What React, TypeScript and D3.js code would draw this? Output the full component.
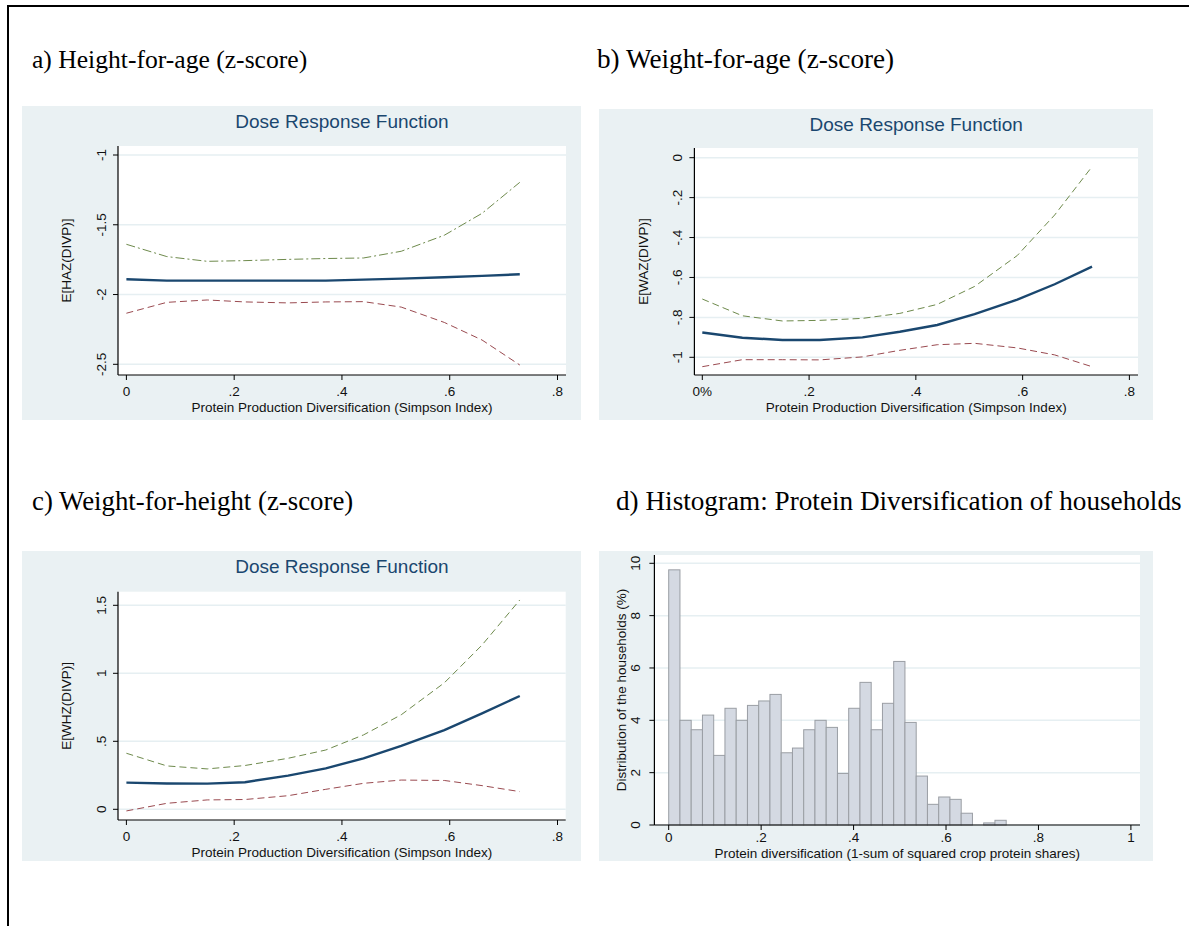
import React from 'react';
import * as d3 from 'd3';

// ---------- data ----------
const doseX = [0, 0.075, 0.15, 0.22, 0.3, 0.37, 0.44, 0.51, 0.59, 0.66, 0.73];

const hazMean = [-1.891, -1.9, -1.9, -1.9, -1.9, -1.9, -1.893, -1.886, -1.876, -1.866, -1.855];
const hazUpper = [-1.64, -1.728, -1.762, -1.757, -1.748, -1.742, -1.738, -1.69, -1.575, -1.418, -1.196];
const hazLower = [-2.134, -2.056, -2.039, -2.053, -2.06, -2.053, -2.051, -2.09, -2.2, -2.326, -2.505];

const wazMean = [-0.876, -0.902, -0.913, -0.913, -0.9, -0.872, -0.838, -0.784, -0.711, -0.634, -0.546];
const wazUpper = [-0.708, -0.792, -0.818, -0.815, -0.805, -0.78, -0.735, -0.645, -0.49, -0.287, -0.045];
const wazLower = [-1.047, -1.012, -1.012, -1.013, -0.998, -0.965, -0.937, -0.93, -0.953, -0.988, -1.047];

const whzMean = [0.196, 0.19, 0.189, 0.199, 0.248, 0.301, 0.375, 0.466, 0.582, 0.706, 0.833];
const whzUpper = [0.412, 0.319, 0.297, 0.322, 0.375, 0.436, 0.547, 0.695, 0.93, 1.208, 1.539];
const whzLower = [-0.012, 0.044, 0.069, 0.072, 0.1, 0.147, 0.191, 0.215, 0.212, 0.174, 0.13];

const histBinWidth = 0.02434;
const histPercent = [
  9.75, 4.0, 3.64, 4.2, 2.66, 4.46, 4.0, 4.57, 4.74, 4.99,
  2.76, 2.94, 3.64, 4.0, 3.73, 1.97, 4.46, 5.45, 3.64, 4.65,
  6.25, 3.92, 1.87, 0.79, 1.07, 0.98, 0.45, 0, 0.08, 0.18,
];

const doseXTicks = [0, 0.2, 0.4, 0.6, 0.8];
const doseXLabels = ['0', '.2', '.4', '.6', '.8'];
const doseXLabelsPct = ['0%', '.2', '.4', '.6', '.8'];
const hazTicks = [-2.5, -2, -1.5, -1];
const hazLabels = ['-2.5', '-2', '-1.5', '-1'];
const wazTicks = [-1, -0.8, -0.6, -0.4, -0.2, 0];
const wazLabels = ['-1', '-.8', '-.6', '-.4', '-.2', '0'];
const whzTicks = [0, 0.5, 1, 1.5];
const whzLabels = ['0', '.5', '1', '1.5'];
const histXTicks = [0, 0.2, 0.4, 0.6, 0.8, 1];
const histXLabels = ['0', '.2', '.4', '.6', '.8', '1'];
const histYTicks = [0, 2, 4, 6, 8, 10];
const histYLabels = ['0', '2', '4', '6', '8', '10'];

const captions = [
  'a) Height-for-age (z-score)',
  'b) Weight-for-age (z-score)',
  'c) Weight-for-height (z-score)',
  'd) Histogram: Protein Diversification of households',
];
const doseTitle = 'Dose Response Function';
const doseXTitle = 'Protein Production Diversification (Simpson Index)';

// ---------- style ----------
const SANS = '"Liberation Sans", Arial, sans-serif';
const SERIF = '"Liberation Serif", "Times New Roman", serif';
const BG = '#EAF1F3';
const GRID = '#E6EFF2';
const NAVY = '#1A476F';
const GREEN = '#6E8A4C';
const MAROON = '#9A4A50';
const FS = 13.5;

type Box = { x: number; y: number; w: number; h: number };
type Plot = { l: number; r: number; t: number; b: number };

function Axes(props: {
  plot: Plot;
  xs: d3.ScaleLinear<number, number>;
  ys: d3.ScaleLinear<number, number>;
  xTicks: number[];
  xLabels: string[];
  yTicks: number[];
  yLabels: string[];
  yOff: number;
  xOff: number;
}) {
  const { plot, xs, ys, xTicks, xLabels, yTicks, yLabels, yOff, xOff } = props;
  return (
    <g>
      <line x1={plot.l} x2={plot.l} y1={plot.t} y2={plot.b} stroke="#000" strokeWidth={1.2} />
      <line x1={plot.l} x2={plot.r} y1={plot.b} y2={plot.b} stroke="#000" strokeWidth={1.2} />
      {yTicks.map((t, i) => (
        <g key={'y' + i}>
          <line x1={plot.l - 5} x2={plot.l} y1={ys(t)} y2={ys(t)} stroke="#000" strokeWidth={1} />
          <text
            transform={`translate(${plot.l - yOff},${ys(t)}) rotate(-90)`}
            textAnchor="middle"
            fontFamily={SANS}
            fontSize={FS}
            fill="#111"
          >
            {yLabels[i]}
          </text>
        </g>
      ))}
      {xTicks.map((t, i) => (
        <g key={'x' + i}>
          <line x1={xs(t)} x2={xs(t)} y1={plot.b} y2={plot.b + 5} stroke="#000" strokeWidth={1} />
          <text x={xs(t)} y={plot.b + xOff} textAnchor="middle" fontFamily={SANS} fontSize={FS} fill="#111">
            {xLabels[i]}
          </text>
        </g>
      ))}
    </g>
  );
}

function DosePanel(props: {
  bg: Box;
  plot: Plot;
  xRange: [number, number];
  yDomain: [number, number];
  yRange: [number, number];
  yTicks: number[];
  yLabels: string[];
  xLabels: string[];
  yTitle: string;
  yTitleX: number;
  mean: number[];
  upper: number[];
  lower: number[];
  upperDash: string;
}) {
  const p = props;
  const xs = d3.scaleLinear().domain([0, 0.8]).range(p.xRange);
  const ys = d3.scaleLinear().domain(p.yDomain).range(p.yRange);
  const line = (vals: number[]) =>
    d3
      .line<number>()
      .x((_, i) => xs(doseX[i]))
      .y((v) => ys(v))(vals) || '';
  const cx = (p.plot.l + p.plot.r) / 2;
  const cy = (p.plot.t + p.plot.b) / 2;
  return (
    <g>
      <rect x={p.bg.x} y={p.bg.y} width={p.bg.w} height={p.bg.h} fill={BG} />
      <rect x={p.plot.l} y={p.plot.t} width={p.plot.r - p.plot.l} height={p.plot.b - p.plot.t} fill="#fff" />
      {p.yTicks.map((t, i) => (
        <line key={i} x1={p.plot.l} x2={p.plot.r} y1={ys(t)} y2={ys(t)} stroke={GRID} strokeWidth={1.5} />
      ))}
      <path d={line(p.upper)} fill="none" stroke={GREEN} strokeWidth={1} strokeDasharray={p.upperDash} />
      <path d={line(p.lower)} fill="none" stroke={MAROON} strokeWidth={1} strokeDasharray="7,4" />
      <path d={line(p.mean)} fill="none" stroke={NAVY} strokeWidth={2.4} />
      <Axes
        plot={p.plot}
        xs={xs}
        ys={ys}
        xTicks={doseXTicks}
        xLabels={p.xLabels}
        yTicks={p.yTicks}
        yLabels={p.yLabels}
        yOff={12}
        xOff={21}
      />
      <text x={cx} y={p.bg.y + 22} textAnchor="middle" fontFamily={SANS} fontSize={19} fill={NAVY}>
        {doseTitle}
      </text>
      <text x={cx} y={p.plot.b + 37} textAnchor="middle" fontFamily={SANS} fontSize={FS} fill="#111">
        {doseXTitle}
      </text>
      <text
        transform={`translate(${p.yTitleX},${cy}) rotate(-90)`}
        textAnchor="middle"
        dominantBaseline="central"
        fontFamily={SANS}
        fontSize={FS}
        fill="#111"
      >
        {p.yTitle}
      </text>
    </g>
  );
}

function HistPanel() {
  const bg: Box = { x: 599, y: 551, w: 554, h: 310 };
  const plot: Plot = { l: 654.4, r: 1140, t: 555, b: 825 };
  const xs = d3.scaleLinear().domain([0, 1]).range([668.7, 1130.9]);
  const ys = d3.scaleLinear().domain([0, 10]).range([825, 563.3]);
  return (
    <g>
      <rect x={bg.x} y={bg.y} width={bg.w} height={bg.h} fill={BG} />
      <rect x={plot.l} y={plot.t} width={plot.r - plot.l} height={plot.b - plot.t} fill="#fff" />
      {histYTicks.map((t, i) => (
        <line key={i} x1={plot.l} x2={plot.r} y1={ys(t)} y2={ys(t)} stroke={GRID} strokeWidth={1.5} />
      ))}
      {histPercent.map((v, i) =>
        v > 0 ? (
          <rect
            key={i}
            x={xs(i * histBinWidth)}
            y={ys(v)}
            width={xs((i + 1) * histBinWidth) - xs(i * histBinWidth)}
            height={ys(0) - ys(v)}
            fill="#D4D9E2"
            stroke="#9A9EA4"
            strokeWidth={1}
          />
        ) : null
      )}
      <Axes
        plot={plot}
        xs={xs}
        ys={ys}
        xTicks={histXTicks}
        xLabels={histXLabels}
        yTicks={histYTicks}
        yLabels={histYLabels}
        yOff={14}
        xOff={17}
      />
      <text x={(plot.l + plot.r) / 2} y={plot.b + 33} textAnchor="middle" fontFamily={SANS} fontSize={FS} fill="#111">
        Protein diversification (1-sum of squared crop protein shares)
      </text>
      <text
        transform={`translate(621,${(plot.t + plot.b) / 2}) rotate(-90)`}
        textAnchor="middle"
        dominantBaseline="central"
        fontFamily={SANS}
        fontSize={FS}
        fill="#111"
      >
        Distribution of the households (%)
      </text>
    </g>
  );
}

export default function App() {
  return (
    <svg
      width={1189}
      height={926}
      style={{ position: 'absolute', left: 0, top: 0, background: '#fff' }}
    >
      <rect x={0} y={0} width={1189} height={926} fill="#fff" />
      <line x1={7} x2={1189} y1={6} y2={6} stroke="#000" strokeWidth={2} />
      <line x1={8} x2={8} y1={5} y2={926} stroke="#000" strokeWidth={2} />

      <text x={32} y={68} fontFamily={SERIF} fontSize={25.6} fill="#000">{captions[0]}</text>
      <text x={597} y={68} fontFamily={SERIF} fontSize={27.2} fill="#000">{captions[1]}</text>
      <text x={32} y={510} fontFamily={SERIF} fontSize={26.8} fill="#000">{captions[2]}</text>
      <text x={616} y={510} fontFamily={SERIF} fontSize={27.2} fill="#000">{captions[3]}</text>

      <DosePanel
        bg={{ x: 22, y: 106, w: 559, h: 314 }}
        plot={{ l: 118, r: 566, t: 146, b: 375 }}
        xRange={[126.4, 557.5]}
        yDomain={[-2.5, -1]}
        yRange={[364.3, 155]}
        yTicks={hazTicks}
        yLabels={hazLabels}
        xLabels={doseXLabels}
        yTitle="E[HAZ(DIVP)]"
        yTitleX={66}
        mean={hazMean}
        upper={hazUpper}
        lower={hazLower}
        upperDash="9,3,2,3"
      />
      <DosePanel
        bg={{ x: 599, y: 109, w: 554, h: 311 }}
        plot={{ l: 694.4, r: 1138, t: 148, b: 375 }}
        xRange={[702.3, 1129.4]}
        yDomain={[-1, 0]}
        yRange={[357.3, 157.7]}
        yTicks={wazTicks}
        yLabels={wazLabels}
        xLabels={doseXLabelsPct}
        yTitle="E[WAZ(DIVP)]"
        yTitleX={643}
        mean={wazMean}
        upper={wazUpper}
        lower={wazLower}
        upperDash="7,4"
      />
      <DosePanel
        bg={{ x: 22, y: 551, w: 559, h: 310 }}
        plot={{ l: 118, r: 565.7, t: 591.7, b: 820 }}
        xRange={[126.4, 557.5]}
        yDomain={[0, 1.5]}
        yRange={[809.3, 605.3]}
        yTicks={whzTicks}
        yLabels={whzLabels}
        xLabels={doseXLabels}
        yTitle="E[WHZ(DIVP)]"
        yTitleX={66}
        mean={whzMean}
        upper={whzUpper}
        lower={whzLower}
        upperDash="7,4"
      />
      <HistPanel />
    </svg>
  );
}
